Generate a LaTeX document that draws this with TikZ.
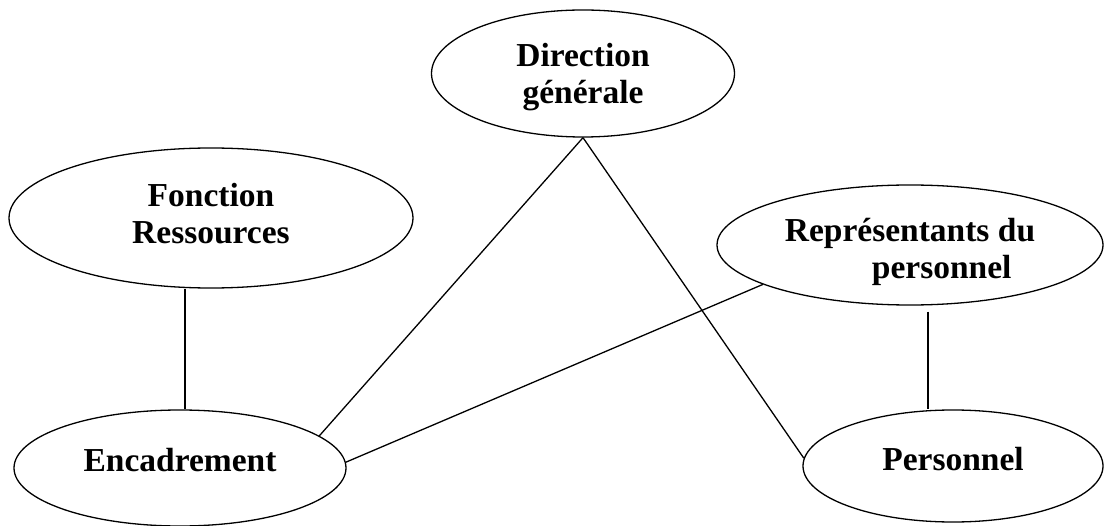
\documentclass[tikz,border=0pt]{standalone}
\usepackage{fontspec}
\setmainfont{Liberation Serif}
\usetikzlibrary{shapes.geometric}
\begin{document}
\begin{tikzpicture}[x=1pt,y=-1pt,
  oval/.style={draw, ellipse, line width=1.3pt, inner sep=0pt},
  txt/.style={inner sep=0pt, align=center,
    font=\fontsize{33.5}{37}\selectfont\bfseries},
  link/.style={draw, line width=1.3pt}]
\fill[white] (0,0) rectangle (1105,526);
\useasboundingbox (0,0) rectangle (1105,526);
\node[oval, minimum width=303pt, minimum height=127pt] (dir) at (583,73.5) {};
\node[oval, minimum width=404pt, minimum height=140pt] (fon) at (211,218) {};
\node[oval, minimum width=386pt, minimum height=120pt] (rep) at (910,245) {};
\node[oval, minimum width=332pt, minimum height=116pt] (enc) at (180,468) {};
\node[oval, minimum width=300pt, minimum height=112pt] (per) at (953,466) {};
\node[txt] (dirt) at ([yshift=-4pt]dir.center) {Direction\\générale};
\node[txt] (font) at ([yshift=4pt]fon.center) {Fonction\\Ressources};
\node[txt, align=left] (rept) at ([yshift=-7pt]rep.center) {Représentants du\\\hspace*{2.6em}personnel};
\node[txt] (enct) at ([yshift=8pt]enc.center) {Encadrement};
\node[txt] (pert) at ([yshift=7pt]per.center) {Personnel};
\coordinate (c1) at (185,0);
\coordinate (c2) at (928,0);
\draw[link] (fon.south -| c1) -- (enc.north -| c1);
\draw[link, shorten <=6pt] (rep.south -| c2) -- (per.north -| c2);
\draw[link] (dir.south) -- (enc.13);
\draw[link] (dir.south) -- (per.177);
\draw[link] (rep.195) -- (enc.2.5);
\end{tikzpicture}
\end{document}
